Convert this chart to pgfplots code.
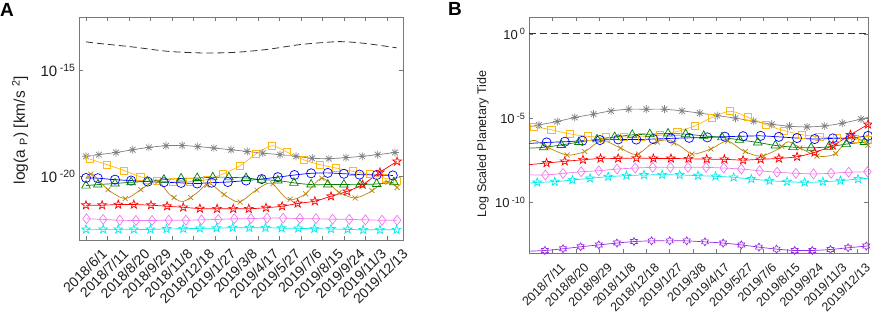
\documentclass[border=0pt]{standalone}
\usepackage{pgfplots}
\pgfplotsset{compat=1.18}
\usepackage{fontspec}
\setmainfont{Liberation Sans}

\pgfdeclareplotmark{pentagram}{%
 \pgfpathmoveto{\pgfpointpolar{90}{\pgfplotmarksize}}%
 \pgfpathlineto{\pgfpointpolar{126}{0.40\pgfplotmarksize}}%
 \pgfpathlineto{\pgfpointpolar{162}{\pgfplotmarksize}}%
 \pgfpathlineto{\pgfpointpolar{198}{0.40\pgfplotmarksize}}%
 \pgfpathlineto{\pgfpointpolar{234}{\pgfplotmarksize}}%
 \pgfpathlineto{\pgfpointpolar{270}{0.40\pgfplotmarksize}}%
 \pgfpathlineto{\pgfpointpolar{306}{\pgfplotmarksize}}%
 \pgfpathlineto{\pgfpointpolar{342}{0.40\pgfplotmarksize}}%
 \pgfpathlineto{\pgfpointpolar{18}{\pgfplotmarksize}}%
 \pgfpathlineto{\pgfpointpolar{54}{0.40\pgfplotmarksize}}%
 \pgfpathclose\pgfusepathqstroke}
\pgfdeclareplotmark{hexagram}{%
 \pgfpathmoveto{\pgfpointpolar{90}{\pgfplotmarksize}}%
 \pgfpathlineto{\pgfpointpolar{120}{0.58\pgfplotmarksize}}%
 \pgfpathlineto{\pgfpointpolar{150}{\pgfplotmarksize}}%
 \pgfpathlineto{\pgfpointpolar{180}{0.58\pgfplotmarksize}}%
 \pgfpathlineto{\pgfpointpolar{210}{\pgfplotmarksize}}%
 \pgfpathlineto{\pgfpointpolar{240}{0.58\pgfplotmarksize}}%
 \pgfpathlineto{\pgfpointpolar{270}{\pgfplotmarksize}}%
 \pgfpathlineto{\pgfpointpolar{300}{0.58\pgfplotmarksize}}%
 \pgfpathlineto{\pgfpointpolar{330}{\pgfplotmarksize}}%
 \pgfpathlineto{\pgfpointpolar{0}{0.58\pgfplotmarksize}}%
 \pgfpathlineto{\pgfpointpolar{30}{\pgfplotmarksize}}%
 \pgfpathlineto{\pgfpointpolar{60}{0.58\pgfplotmarksize}}%
 \pgfpathclose\pgfusepathqstroke}
\pgfdeclareplotmark{asterisk8}{%
 \pgfpathmoveto{\pgfpointpolar{0}{\pgfplotmarksize}}\pgfpathlineto{\pgfpointpolar{180}{\pgfplotmarksize}}%
 \pgfpathmoveto{\pgfpointpolar{45}{\pgfplotmarksize}}\pgfpathlineto{\pgfpointpolar{225}{\pgfplotmarksize}}%
 \pgfpathmoveto{\pgfpointpolar{90}{\pgfplotmarksize}}\pgfpathlineto{\pgfpointpolar{270}{\pgfplotmarksize}}%
 \pgfpathmoveto{\pgfpointpolar{135}{\pgfplotmarksize}}\pgfpathlineto{\pgfpointpolar{315}{\pgfplotmarksize}}%
 \pgfusepathqstroke}

\definecolor{cgray}{RGB}{128,128,128}
\definecolor{cyel}{RGB}{255,185,20}
\definecolor{cblue}{RGB}{0,0,255}
\definecolor{cgreen}{RGB}{0,128,0}
\definecolor{cbrown}{RGB}{184,134,11}
\definecolor{cred}{RGB}{255,0,0}
\definecolor{cmag}{RGB}{240,120,240}
\definecolor{ccyan}{RGB}{0,235,235}
\definecolor{cpurp}{RGB}{150,40,230}
\definecolor{axgray}{RGB}{120,120,120}
\definecolor{txt}{RGB}{30,30,30}

\pgfplotsset{
 common/.style={
  scale only axis, anchor=south west,
  axis line style={axgray, line width=0.7pt},
  every tick/.style={axgray, line width=0.6pt},
  major tick length=4pt, tick align=inside,
  xtick pos=both, ytick pos=both,
  minor tick num=0,
  /pgf/number format/assume math mode=true,
  tick label style={text=txt},
 },
 ser/.style={smooth, line width=0.7pt, mark options={solid, line width=0.7pt}},
}

\begin{document}
\begin{tikzpicture}
\path[use as bounding box] (0pt,0pt) rectangle (872pt,-314pt);
\node[anchor=north west, inner sep=0pt, font=\bfseries\fontsize{19}{19}\selectfont] at (0pt,-3pt) {A};
\node[anchor=north west, inner sep=0pt, font=\bfseries\fontsize{19}{19}\selectfont] at (448pt,-2pt) {B};

% ---------------- Panel A ----------------
\begin{axis}[common,
 at={(79pt,-240pt)}, width=324pt, height=223pt,
 xmin=-13, xmax=590, ymin=-23, ymax=-12.5,
 xtick={0,40,...,560},
 xticklabels={2018/6/1,2018/7/11,2018/8/20,2018/9/29,2018/11/8,2018/12/18,2019/1/27,2019/3/8,2019/4/17,2019/5/27,2019/7/6,2019/8/15,2019/9/24,2019/11/3,2019/12/13},
 xticklabel style={rotate=45, anchor=east, inner sep=0pt, xshift=5pt, yshift=-21pt, font=\fontsize{14}{14}\selectfont},
 ytick={-20,-15},
 yticklabels={10\,\textsuperscript{-20},10\,\textsuperscript{-15}},
 yticklabel style={font=\fontsize{15}{15}\selectfont},
 ylabel={log(a~\textsubscript{P}) [km/s~\textsuperscript{2}]},
 ylabel style={at={(axis description cs:-0.182,0.493)}, anchor=center, font=\fontsize{15.5}{15.5}\selectfont, text=txt},
]
\addplot[black!80, smooth, line width=0.8pt, dash pattern=on 7pt off 4pt] coordinates {
(0,-13.67)(26,-13.75)(87,-13.91)(150,-14.11)(212,-14.19)(273,-14.17)(336,-14.03)(398,-13.80)(460,-13.67)(485,-13.67)(522,-13.75)(578,-13.95)};
\addplot[ser, cgray, mark=asterisk8, mark size=4pt] coordinates {
(0,-19.06)(24,-18.98)(56,-18.88)(87,-18.75)(117,-18.64)(149,-18.56)(179,-18.55)(208,-18.60)(238,-18.67)(270,-18.75)(300,-18.83)(329,-18.91)(361,-18.98)(391,-19.06)(421,-19.15)(452,-19.17)(484,-19.12)(514,-19.06)(543,-18.98)(575,-18.88)};
\addplot[ser, cyel, mark=square, mark size=3.6pt] coordinates {
(7,-19.19)(39,-19.45)(71,-19.73)(101,-20.02)(132,-20.20)(162,-20.27)(194,-20.25)(225,-20.16)(255,-19.89)(287,-19.50)(316,-18.96)(346,-18.56)(374,-18.86)(406,-19.23)(435,-19.45)(465,-19.61)(497,-19.77)(528,-19.90)(558,-20.10)(579,-20.20)};
\addplot[ser, cblue, mark=o, mark size=4.6pt] coordinates {
(0,-20.08)(22,-20.09)(54,-20.16)(84,-20.20)(115,-20.25)(145,-20.28)(177,-20.31)(207,-20.34)(234,-20.30)(264,-20.27)(298,-20.20)(327,-20.13)(357,-20.04)(388,-19.94)(419,-19.86)(450,-19.84)(480,-19.88)(509,-19.92)(541,-19.94)(571,-19.96)};
\addplot[ser, cgreen, mark=triangle, mark size=5pt] coordinates {
(0,-20.44)(22,-20.39)(54,-20.34)(84,-20.28)(114,-20.24)(145,-20.16)(177,-20.10)(207,-20.08)(236,-20.05)(266,-20.05)(298,-20.08)(327,-20.16)(357,-20.20)(387,-20.31)(419,-20.39)(450,-20.39)(480,-20.39)(510,-20.39)(541,-20.36)(573,-20.28)};
\addplot[cbrown, smooth, line width=0.7pt] coordinates {
(0,-20.11)(11,-19.88)(41,-20.63)(73,-21.05)(102,-20.63)(132,-20.20)(156,-20.86)(180,-21.19)(207,-20.77)(229,-20.34)(257,-20.86)(285,-21.21)(314,-20.70)(344,-20.32)(376,-21.09)(407,-20.86)(439,-20.09)(469,-20.72)(500,-21.02)(530,-20.72)(558,-20.23)(579,-20.53)};
\addplot[cbrown, only marks, mark=x, mark size=3.5pt, mark options={line width=0.7pt}] coordinates {
(9,-19.90)(41,-20.63)(73,-21.05)(102,-20.63)(134,-20.25)(164,-21.00)(195,-21.00)(225,-20.42)(257,-20.86)(287,-21.21)(318,-20.65)(348,-20.35)(380,-21.08)(409,-20.83)(439,-20.09)(471,-20.77)(501,-21.02)(532,-20.67)(562,-20.28)(579,-20.53)};
\addplot[ser, cred, mark=pentagram, mark size=4.5pt] coordinates {
(0,-21.36)(30,-21.36)(60,-21.33)(89,-21.33)(121,-21.36)(151,-21.41)(181,-21.46)(212,-21.52)(244,-21.53)(274,-21.53)(303,-21.53)(335,-21.48)(365,-21.41)(394,-21.28)(426,-21.17)(456,-20.94)(486,-20.71)(515,-20.39)(547,-19.81)(579,-19.30)};
\addplot[ser, cmag, mark=diamond, mark size=5pt] coordinates {
(1,-22.00)(32,-22.03)(63,-22.07)(93,-22.08)(123,-22.08)(154,-22.07)(186,-22.07)(215,-22.05)(246,-22.03)(276,-22.00)(307,-21.99)(337,-21.97)(367,-21.97)(398,-21.99)(428,-22.00)(459,-22.02)(490,-22.03)(520,-22.05)(551,-22.07)(579,-22.07)};
\addplot[ser, ccyan, mark=pentagram, mark size=4.5pt] coordinates {
(0,-22.50)(32,-22.50)(60,-22.50)(89,-22.50)(120,-22.50)(150,-22.48)(181,-22.47)(212,-22.45)(243,-22.44)(273,-22.42)(304,-22.42)(334,-22.42)(364,-22.44)(395,-22.45)(425,-22.47)(456,-22.48)(487,-22.50)(516,-22.52)(547,-22.52)(578,-22.52)};
\end{axis}

% ---------------- Panel B ----------------
\begin{axis}[common,
 at={(529pt,-253pt)}, width=339pt, height=236pt,
 xmin=0, xmax=578, ymin=-13, ymax=1,
 xtick={40,80,...,560},
 xticklabels={2018/7/11,2018/8/20,2018/9/29,2018/11/8,2018/12/18,2019/1/27,2019/3/8,2019/4/17,2019/5/27,2019/7/6,2019/8/15,2019/9/24,2019/11/3,2019/12/13},
 xticklabel style={rotate=45, anchor=east, inner sep=0pt, xshift=-1pt, yshift=-16pt, font=\fontsize{12.5}{12.5}\selectfont},
 ytick={-10,-5,0},
 yticklabels={10\,\textsuperscript{-10},10\,\textsuperscript{-5},10\,\textsuperscript{0}},
 yticklabel style={font=\fontsize{13}{13}\selectfont},
 ylabel={Log Scaled Planetary Tide},
 ylabel style={at={(axis description cs:-0.136,0.462)}, anchor=center, font=\fontsize{12.5}{12.5}\selectfont, text=txt},
]
\addplot[black!80, line width=0.8pt, dash pattern=on 7pt off 4pt] coordinates {(0,0)(578,0)};
\addplot[ser, cgray, mark=asterisk8, mark size=4pt, mark indices={2,...,20}] coordinates {
(0,-5.52)(17,-5.40)(48,-5.20)(78,-4.96)(110,-4.76)(140,-4.57)(170,-4.47)(200,-4.47)(231,-4.47)(261,-4.57)(291,-4.70)(321,-4.85)(352,-5.00)(383,-5.18)(414,-5.36)(444,-5.48)(474,-5.52)(504,-5.46)(534,-5.30)(566,-5.06)(578,-4.96)};
\addplot[ser, cyel, mark=square, mark size=3.6pt] coordinates {
(8,-5.50)(38,-5.69)(69,-5.93)(100,-6.08)(131,-6.14)(162,-6.12)(192,-6.11)(223,-6.02)(253,-5.79)(283,-5.46)(312,-4.96)(343,-4.59)(373,-4.94)(404,-5.39)(434,-5.73)(465,-5.98)(495,-6.11)(525,-6.17)(555,-6.22)(578,-6.30)};
\addplot[ser, cblue, mark=o, mark size=4.6pt, mark indices={2,...,20}] coordinates {
(0,-6.50)(30,-6.44)(61,-6.40)(91,-6.34)(121,-6.30)(152,-6.26)(183,-6.27)(212,-6.24)(242,-6.20)(273,-6.17)(304,-6.14)(334,-6.10)(365,-6.07)(395,-6.05)(426,-6.11)(457,-6.18)(487,-6.24)(518,-6.20)(548,-6.18)(578,-6.05)};
\addplot[ser, cgreen, mark=triangle, mark size=5pt, mark indices={2,...,20}] coordinates {
(0,-6.78)(25,-6.73)(55,-6.59)(85,-6.42)(116,-6.26)(146,-6.12)(176,-5.99)(206,-5.95)(237,-5.91)(267,-5.95)(298,-6.05)(329,-6.14)(359,-6.29)(390,-6.44)(420,-6.62)(450,-6.72)(481,-6.76)(511,-6.70)(541,-6.54)(572,-6.42)(578,-6.41)};
\addplot[cbrown, smooth, line width=0.7pt] coordinates {
(0,-6.42)(11,-6.33)(38,-6.83)(66,-7.19)(95,-6.98)(124,-6.33)(153,-6.72)(183,-7.16)(211,-6.48)(236,-6.30)(258,-6.66)(279,-7.13)(310,-6.83)(338,-6.36)(366,-6.95)(395,-7.25)(425,-6.83)(442,-6.40)(463,-6.78)(492,-7.25)(521,-7.13)(550,-6.11)(578,-6.63)};
\addplot[cbrown, only marks, mark=x, mark size=3.5pt, mark options={line width=0.7pt}] coordinates {
(32,-6.72)(65,-7.19)(95,-6.98)(125,-6.33)(156,-6.78)(187,-7.13)(219,-6.42)(247,-6.48)(278,-7.13)(310,-6.83)(339,-6.36)(369,-6.98)(400,-7.24)(431,-6.68)(462,-6.77)(491,-7.25)(523,-7.11)(554,-6.15)(578,-6.60)};
\addplot[ser, cred, mark=pentagram, mark size=4.5pt, mark indices={2,...,20}] coordinates {
(0,-7.76)(30,-7.66)(61,-7.56)(92,-7.47)(122,-7.39)(152,-7.39)(183,-7.37)(212,-7.39)(242,-7.39)(272,-7.41)(303,-7.43)(333,-7.44)(365,-7.49)(395,-7.44)(426,-7.39)(457,-7.29)(487,-7.03)(518,-6.62)(548,-5.99)(578,-5.37)};
\addplot[ser, cmag, mark=diamond, mark size=5pt, mark indices={2,...,20}] coordinates {
(0,-8.36)(28,-8.37)(58,-8.28)(89,-8.18)(119,-8.12)(150,-8.02)(181,-7.96)(211,-7.92)(241,-7.92)(271,-7.92)(302,-7.92)(332,-7.96)(362,-8.02)(393,-8.12)(423,-8.21)(455,-8.27)(485,-8.31)(515,-8.27)(545,-8.21)(577,-8.18)};
\addplot[ser, ccyan, mark=pentagram, mark size=4.5pt, mark indices={2,...,20}] coordinates {
(0,-8.85)(14,-8.81)(44,-8.77)(74,-8.67)(104,-8.57)(135,-8.47)(166,-8.41)(196,-8.37)(227,-8.36)(257,-8.37)(288,-8.41)(318,-8.45)(349,-8.51)(379,-8.61)(410,-8.71)(440,-8.77)(470,-8.81)(501,-8.77)(531,-8.71)(561,-8.61)(578,-8.57)};
\addplot[ser, cpurp, mark=hexagram, mark size=4pt, mark indices={2,...,20}] coordinates {
(0,-12.89)(27,-12.85)(58,-12.75)(88,-12.63)(119,-12.52)(150,-12.41)(179,-12.32)(209,-12.28)(240,-12.28)(269,-12.28)(300,-12.34)(331,-12.41)(362,-12.52)(392,-12.65)(422,-12.77)(453,-12.85)(483,-12.85)(514,-12.79)(544,-12.69)(575,-12.59)(578,-12.58)};
\end{axis}
\end{tikzpicture}
\end{document}
